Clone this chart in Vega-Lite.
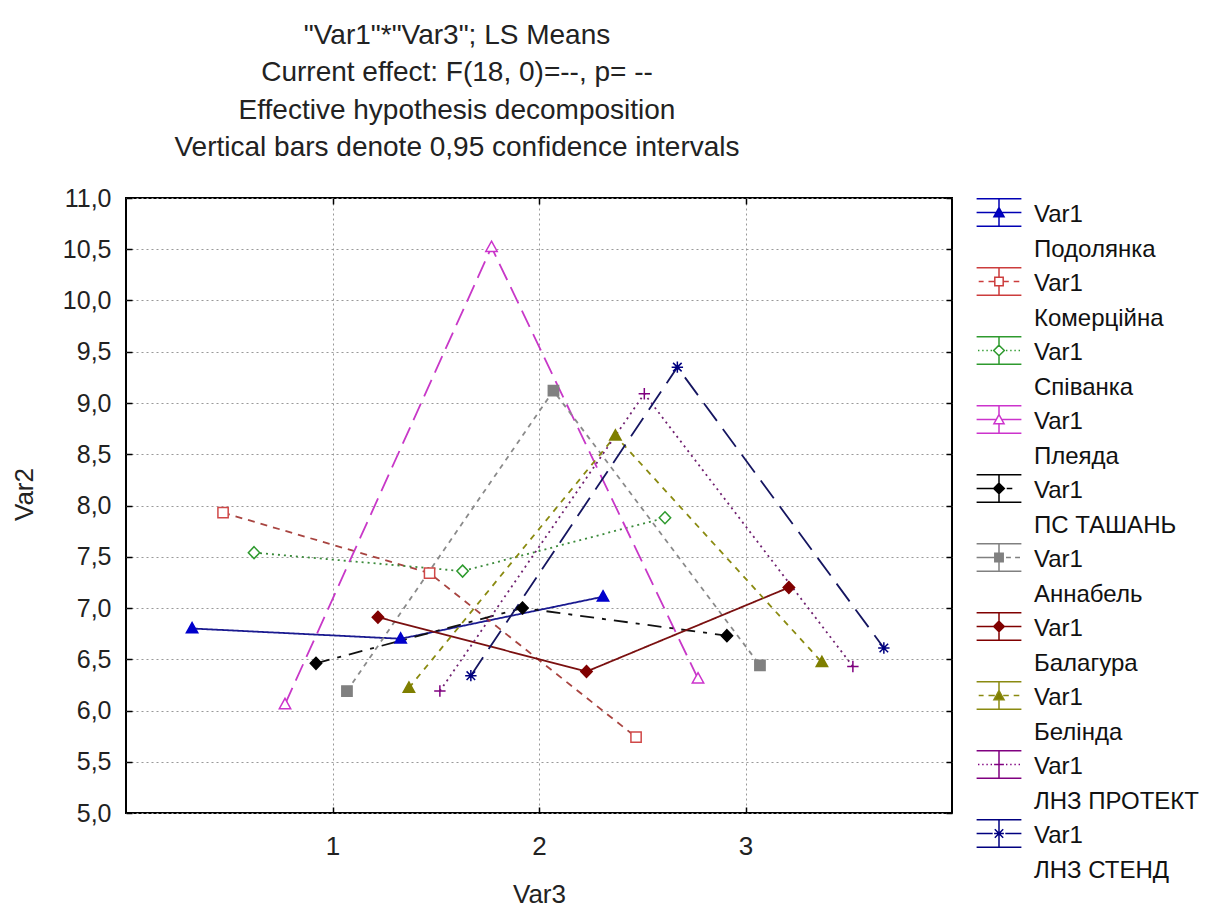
{
  "$schema": "https://vega.github.io/schema/vega-lite/v6.json",
  "width": 826,
  "height": 615,
  "autosize": {"type": "none"},
  "padding": {"left": 126, "top": 198, "right": 269, "bottom": 94},
  "background": "white",
  "config": {
    "font": "Liberation Sans",
    "view": {"stroke": "#000000", "strokeWidth": 2},
    "axis": {
      "domain": false,
      "tickSize": -6,
      "tickColor": "#000000",
      "tickWidth": 1.5,
      "labelFont": "Liberation Sans",
      "labelFontSize": 25,
      "labelColor": "#222222",
      "titleFont": "Liberation Sans",
      "titleFontSize": 26,
      "titleFontWeight": "normal",
      "titleColor": "#222222",
      "gridColor": "#999999",
      "gridDash": [2, 3],
      "gridWidth": 1,
      "gridOpacity": 1
    }
  },
  "title": {
    "text": ["\"Var1\"*\"Var3\"; LS Means", "Current effect: F(18, 0)=--, p=  --", "Effective hypothesis decomposition", "Vertical bars denote 0,95 confidence intervals"],
    "anchor": "middle",
    "dx": -82,
    "offset": 24,
    "fontSize": 28,
    "lineHeight": 37.5,
    "font": "Liberation Sans",
    "fontWeight": "normal",
    "color": "#222222"
  },
  "data": {
    "values": [
      {"series": "Подолянка", "var3": 1, "pos": 0.32, "mean": 6.80},
      {"series": "Подолянка", "var3": 2, "pos": 1.33, "mean": 6.70},
      {"series": "Подолянка", "var3": 3, "pos": 2.31, "mean": 7.11},
      {"series": "Комерційна", "var3": 1, "pos": 0.47, "mean": 7.93},
      {"series": "Комерційна", "var3": 2, "pos": 1.47, "mean": 7.34},
      {"series": "Комерційна", "var3": 3, "pos": 2.47, "mean": 5.74},
      {"series": "Співанка", "var3": 1, "pos": 0.62, "mean": 7.54},
      {"series": "Співанка", "var3": 2, "pos": 1.63, "mean": 7.36},
      {"series": "Співанка", "var3": 3, "pos": 2.61, "mean": 7.88},
      {"series": "Плеяда", "var3": 1, "pos": 0.77, "mean": 6.06},
      {"series": "Плеяда", "var3": 2, "pos": 1.77, "mean": 10.52},
      {"series": "Плеяда", "var3": 3, "pos": 2.77, "mean": 6.31},
      {"series": "ПС ТАШАНЬ", "var3": 1, "pos": 0.92, "mean": 6.46},
      {"series": "ПС ТАШАНЬ", "var3": 2, "pos": 1.92, "mean": 7.00},
      {"series": "ПС ТАШАНЬ", "var3": 3, "pos": 2.91, "mean": 6.73},
      {"series": "Аннабель", "var3": 1, "pos": 1.07, "mean": 6.19},
      {"series": "Аннабель", "var3": 2, "pos": 2.07, "mean": 9.12},
      {"series": "Аннабель", "var3": 3, "pos": 3.07, "mean": 6.44},
      {"series": "Балагура", "var3": 1, "pos": 1.22, "mean": 6.91},
      {"series": "Балагура", "var3": 2, "pos": 2.23, "mean": 6.38},
      {"series": "Балагура", "var3": 3, "pos": 3.21, "mean": 7.20},
      {"series": "Белінда", "var3": 1, "pos": 1.37, "mean": 6.22},
      {"series": "Белінда", "var3": 2, "pos": 2.37, "mean": 8.68},
      {"series": "Белінда", "var3": 3, "pos": 3.37, "mean": 6.47},
      {"series": "ЛНЗ ПРОТЕКТ", "var3": 1, "pos": 1.52, "mean": 6.19},
      {"series": "ЛНЗ ПРОТЕКТ", "var3": 2, "pos": 2.51, "mean": 9.09},
      {"series": "ЛНЗ ПРОТЕКТ", "var3": 3, "pos": 3.52, "mean": 6.43},
      {"series": "ЛНЗ СТЕНД", "var3": 1, "pos": 1.67, "mean": 6.34},
      {"series": "ЛНЗ СТЕНД", "var3": 2, "pos": 2.67, "mean": 9.35},
      {"series": "ЛНЗ СТЕНД", "var3": 3, "pos": 3.67, "mean": 6.61}
    ]
  },
  "layer": [
    {
      "mark": {"type": "line", "strokeWidth": 1.8},
      "encoding": {
        "x": {
          "field": "pos", "type": "quantitative",
          "scale": {"domain": [0, 4], "nice": false, "zero": false},
          "axis": {"orient": "bottom", "values": [1, 2, 3], "title": "Var3", "grid": true, "labelPadding": 26, "labelFontSize": 26, "titlePadding": 22}
        },
        "y": {
          "field": "mean", "type": "quantitative",
          "scale": {"domain": [5, 11], "nice": false, "zero": false},
          "axis": {"orient": "left", "values": [5, 5.5, 6, 6.5, 7, 7.5, 8, 8.5, 9, 9.5, 10, 10.5, 11], "title": "Var2", "grid": true, "labelPadding": 21, "titlePadding": 25, "titleY": 296, "labelExpr": "replace(format(datum.value, '.1f'), '.', ',')"}
        },
        "stroke": {
          "field": "series", "type": "nominal",
          "scale": {
            "domain": ["Подолянка", "Комерційна", "Співанка", "Плеяда", "ПС ТАШАНЬ", "Аннабель", "Балагура", "Белінда", "ЛНЗ ПРОТЕКТ", "ЛНЗ СТЕНД"],
            "range": ["#1A1A90", "#A84440", "#3A8A3A", "#C838C8", "#111111", "#8A8A8A", "#7A1010", "#8A8A10", "#702070", "#151560"]
          },
          "legend": null
        },
        "strokeDash": {
          "field": "series", "type": "nominal",
          "scale": {
            "domain": ["Подолянка", "Комерційна", "Співанка", "Плеяда", "ПС ТАШАНЬ", "Аннабель", "Балагура", "Белінда", "ЛНЗ ПРОТЕКТ", "ЛНЗ СТЕНД"],
            "range": [[1, 0], [7, 6], [2, 4], [18, 8], [14, 8, 4, 8], [5, 5], [1, 0], [6, 6], [2, 4], [22, 10]]
          },
          "legend": null
        }
      }
    },
    {
      "mark": {"type": "point", "size": 130, "strokeWidth": 1.5, "opacity": 1},
      "encoding": {
        "x": {"field": "pos", "type": "quantitative", "scale": {"domain": [0, 4], "nice": false, "zero": false}, "axis": null},
        "y": {"field": "mean", "type": "quantitative", "scale": {"domain": [5, 11], "nice": false, "zero": false}, "axis": null},
        "shape": {
          "field": "series", "type": "nominal",
          "scale": {
            "domain": ["Подолянка", "Комерційна", "Співанка", "Плеяда", "ПС ТАШАНЬ", "Аннабель", "Балагура", "Белінда", "ЛНЗ ПРОТЕКТ", "ЛНЗ СТЕНД"],
            "range": [
              "M0,-1.05L1,0.75L-1,0.75Z",
              "M-0.9,-0.9H0.9V0.9H-0.9Z",
              "M0,-1.05L1,0L0,1.05L-1,0Z",
              "M0,-1.05L1,0.75L-1,0.75Z",
              "M0,-1.05L1,0L0,1.05L-1,0Z",
              "M-0.9,-0.9H0.9V0.9H-0.9Z",
              "M0,-1.05L1,0L0,1.05L-1,0Z",
              "M0,-1.05L1,0.75L-1,0.75Z",
              "M-1,0H1M0,-1V1",
              "M-1,0H1M0,-1V1M-0.75,-0.75L0.75,0.75M-0.75,0.75L0.75,-0.75"
            ]
          },
          "legend": null
        },
        "fill": {
          "field": "series", "type": "nominal",
          "scale": {
            "domain": ["Подолянка", "Комерційна", "Співанка", "Плеяда", "ПС ТАШАНЬ", "Аннабель", "Балагура", "Белінда", "ЛНЗ ПРОТЕКТ", "ЛНЗ СТЕНД"],
            "range": ["#0000CC", "#FFFFFF", "#FFFFFF", "#FFFFFF", "#000000", "#808080", "#800000", "#7F7F00", "transparent", "transparent"]
          },
          "legend": null
        },
        "stroke": {
          "field": "series", "type": "nominal",
          "scale": {
            "domain": ["Подолянка", "Комерційна", "Співанка", "Плеяда", "ПС ТАШАНЬ", "Аннабель", "Балагура", "Белінда", "ЛНЗ ПРОТЕКТ", "ЛНЗ СТЕНД"],
            "range": ["#0000CC", "#D04848", "#2E9A2E", "#CC33CC", "#000000", "#808080", "#800000", "#7F7F00", "#800080", "#000080"]
          },
          "legend": null
        }
      }
    },
    {
      "mark": {"type": "point", "size": 784, "strokeWidth": 1.5, "opacity": 0},
      "encoding": {
        "x": {"field": "pos", "type": "quantitative", "scale": {"domain": [0, 4], "nice": false, "zero": false},
          "axis": {"orient": "top", "values": [1, 2, 3], "labels": false, "title": null, "grid": false}},
        "y": {"field": "mean", "type": "quantitative", "scale": {"domain": [5, 11], "nice": false, "zero": false},
          "axis": {"orient": "right", "values": [5, 5.5, 6, 6.5, 7, 7.5, 8, 8.5, 9, 9.5, 10, 10.5, 11], "labels": false, "title": null, "grid": false}},
        "shape": {
          "field": "series", "type": "nominal",
          "scale": {
            "domain": ["Подолянка", "Комерційна", "Співанка", "Плеяда", "ПС ТАШАНЬ", "Аннабель", "Балагура", "Белінда", "ЛНЗ ПРОТЕКТ", "ЛНЗ СТЕНД"],
            "range": [
              "M-1.6,-1.66H1.6M-1.6,0.3H1.6M0,-1.66V-1.03M0,-0.38V0.3M-1.6,-0.68H1.6M0,-1.03L0.36,-0.38L-0.36,-0.38Z",
              "M-1.6,-1.66H1.6M-1.6,0.3H1.6M0,-1.66V-0.98M0,-0.38V0.3M-1.45,-0.68H-1.1M-0.75,-0.68H-0.3M0.3,-0.68H0.7M1.05,-0.68H1.45M-0.3,-0.98H0.3V-0.38H-0.3Z",
              "M-1.6,-1.66H1.6M-1.6,0.3H1.6M0,-1.66V-1.06M0,-0.3V0.3M-1.5,-0.68H-1.4M-1.2,-0.68H-1.1M-0.9,-0.68H-0.8M-0.6,-0.68H-0.5M0.5,-0.68H0.6M0.8,-0.68H0.9M1.1,-0.68H1.2M1.4,-0.68H1.5M0,-1.06L0.38,-0.68L0,-0.3L-0.38,-0.68Z",
              "M-1.6,-1.66H1.6M-1.6,0.3H1.6M0,-1.66V-1.03M0,-0.38V0.3M-1.6,-0.68H-0.19M0.19,-0.68H1.6M0,-1.03L0.36,-0.38L-0.36,-0.38Z",
              "M-1.6,-1.66H1.6M-1.6,0.3H1.6M0,-1.66V-1.06M0,-0.3V0.3M-1.6,-0.68H-0.38M0.55,-0.68H0.95M0,-1.06L0.38,-0.68L0,-0.3L-0.38,-0.68Z",
              "M-1.6,-1.66H1.6M-1.6,0.3H1.6M0,-1.66V-0.98M0,-0.38V0.3M-1.6,-0.68H-0.3M0.5,-0.68H0.85M1.15,-0.68H1.5M-0.3,-0.98H0.3V-0.38H-0.3Z",
              "M-1.6,-1.66H1.6M-1.6,0.3H1.6M0,-1.66V-1.06M0,-0.3V0.3M-1.6,-0.68H1.6M0,-1.06L0.38,-0.68L0,-0.3L-0.38,-0.68Z",
              "M-1.6,-1.66H1.6M-1.6,0.3H1.6M0,-1.66V-1.03M0,-0.38V0.3M-1.45,-0.68H-1.1M-0.75,-0.68H-0.3M0.3,-0.68H0.7M1.05,-0.68H1.45M0,-1.03L0.36,-0.38L-0.36,-0.38Z",
              "M-1.6,-1.66H1.6M-1.6,0.3H1.6M0,-1.66V0.3M-0.35,-0.68H0.35M-1.5,-0.68H-1.4M-1.2,-0.68H-1.1M-0.9,-0.68H-0.8M-0.6,-0.68H-0.5M0.5,-0.68H0.6M0.8,-0.68H0.9M1.1,-0.68H1.2M1.4,-0.68H1.5",
              "M-1.6,-1.66H1.6M-1.6,0.3H1.6M0,-1.66V0.3M-1.6,-0.68H-0.45M0.45,-0.68H1.6M-0.35,-0.68H0.35M-0.3,-0.98L0.3,-0.38M-0.3,-0.38L0.3,-0.98"
            ]
          },
          "legend": {"title": null, "orient": "none", "legendX": 858, "legendY": 9, "labelExpr": "['Var1', datum.label]", "labelFontSize": 24, "labelFont": "Liberation Sans", "labelColor": "#111111", "labelBaseline": "alphabetic", "labelLimit": 400, "labelOffset": 20, "symbolSize": 784, "symbolStrokeWidth": 1.5, "symbolOpacity": 1, "rowPadding": 2, "padding": 0, "encode": {"labels": {"update": {"lineHeight": {"value": 35}}}}}
        },
        "fill": {
          "field": "series", "type": "nominal",
          "scale": {
            "domain": ["Подолянка", "Комерційна", "Співанка", "Плеяда", "ПС ТАШАНЬ", "Аннабель", "Балагура", "Белінда", "ЛНЗ ПРОТЕКТ", "ЛНЗ СТЕНД"],
            "range": ["#0000CC", "#FFFFFF", "#FFFFFF", "#FFFFFF", "#000000", "#808080", "#800000", "#7F7F00", "transparent", "transparent"]
          },
          "legend": {"title": null, "orient": "none", "legendX": 858, "legendY": 9, "labelExpr": "['Var1', datum.label]", "labelFontSize": 24, "labelFont": "Liberation Sans", "labelColor": "#111111", "labelBaseline": "alphabetic", "labelLimit": 400, "labelOffset": 20, "symbolSize": 784, "symbolStrokeWidth": 1.5, "symbolOpacity": 1, "rowPadding": 2, "padding": 0, "encode": {"labels": {"update": {"lineHeight": {"value": 35}}}}}
        },
        "stroke": {
          "field": "series", "type": "nominal",
          "scale": {
            "domain": ["Подолянка", "Комерційна", "Співанка", "Плеяда", "ПС ТАШАНЬ", "Аннабель", "Балагура", "Белінда", "ЛНЗ ПРОТЕКТ", "ЛНЗ СТЕНД"],
            "range": ["#0000B4", "#CC3C3C", "#2E9A2E", "#CC33CC", "#000000", "#808080", "#800000", "#8A8A10", "#800080", "#000080"]
          },
          "legend": {"title": null, "orient": "none", "legendX": 858, "legendY": 9, "labelExpr": "['Var1', datum.label]", "labelFontSize": 24, "labelFont": "Liberation Sans", "labelColor": "#111111", "labelBaseline": "alphabetic", "labelLimit": 400, "labelOffset": 20, "symbolSize": 784, "symbolStrokeWidth": 1.5, "symbolOpacity": 1, "rowPadding": 2, "padding": 0, "encode": {"labels": {"update": {"lineHeight": {"value": 35}}}}}
        }
      }
    }
  ],
  "resolve": {
    "scale": {"x": "independent", "y": "independent", "stroke": "independent", "fill": "independent", "shape": "independent", "strokeDash": "independent"},
    "axis": {"x": "independent", "y": "independent"},
    "legend": {"stroke": "independent", "fill": "independent", "shape": "independent", "strokeDash": "independent"}
  }
}
